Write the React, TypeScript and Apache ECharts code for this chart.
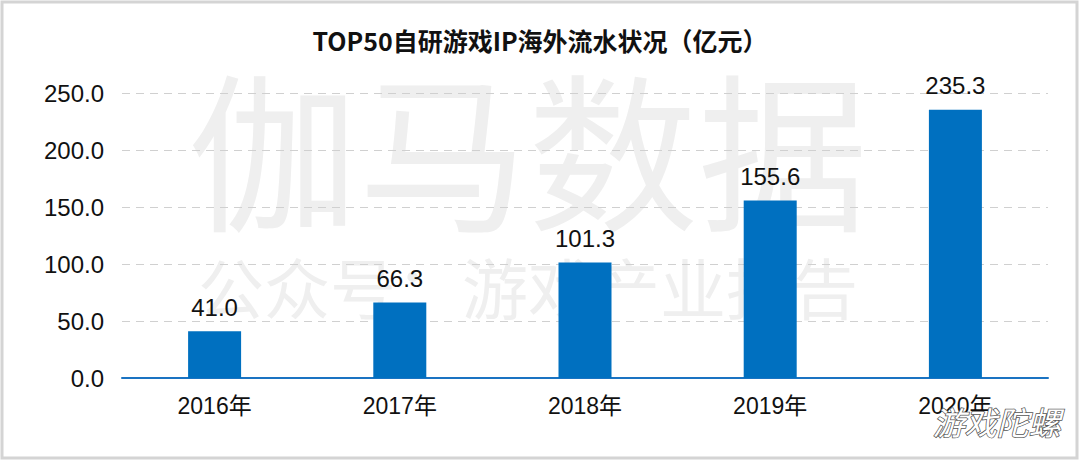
import React, { useEffect, useRef } from "react";
import * as echarts from "echarts";

const categories = ["2016年", "2017年", "2018年", "2019年", "2020年"];
const values = [41.0, 66.3, 101.3, 155.6, 235.3];
const title = "TOP50自研游戏IP海外流水状况（亿元）";

export default function App() {
  const ref = useRef<HTMLDivElement>(null);
  useEffect(() => {
    if (!ref.current) return;
    const chart = echarts.init(ref.current, undefined, { renderer: "svg" });
    const font = "'Liberation Sans', 'Noto Sans CJK SC', sans-serif";
    chart.setOption({
      animation: false,
      backgroundColor: "#ffffff",
      title: {
        text: title,
        left: "center",
        top: 22,
        textStyle: {
          fontSize: 25,
          fontWeight: "bold",
          color: "#111",
          fontFamily: "'Noto Sans CJK SC', sans-serif",
        },
      },
      graphic: [
        {
          type: "rect",
          z: -10,
          shape: { x: 2, y: 2, width: 1075, height: 456 },
          style: { fill: "#fff", stroke: "#d4d4d4", lineWidth: 3 },
          silent: true,
        },
        {
          type: "text",
          z: -5,
          left: 188,
          top: 60,
          style: {
            text: "伽马数据",
            font: "170px 'Noto Sans CJK SC', sans-serif",
            fill: "#efefef",
          },
          silent: true,
        },
        {
          type: "text",
          z: -5,
          left: 198,
          top: 252,
          style: {
            text: "公众号：游戏产业报告",
            font: "66px 'Noto Sans CJK SC', sans-serif",
            fill: "#efefef",
          },
          silent: true,
        },
        {
          type: "text",
          z: 100,
          left: 932,
          top: 404,
          style: {
            text: "游戏陀螺",
            font: "italic 32px 'Noto Sans CJK SC', sans-serif",
            fill: "#ffffff",
            stroke: "#555",
            lineWidth: 1.5,
          },
          silent: true,
        },
      ],
      grid: { left: 122, right: 32, top: 93, bottom: 84 },
      xAxis: {
        type: "category",
        data: categories,
        axisLine: { lineStyle: { color: "#1a73c2", width: 2 } },
        axisTick: { show: false },
        axisLabel: { fontSize: 23, color: "#111", margin: 16, fontFamily: font },
      },
      yAxis: {
        type: "value",
        min: 0,
        max: 250,
        interval: 50,
        axisLine: { show: false },
        axisTick: { show: false },
        axisLabel: {
          fontSize: 24,
          color: "#111",
          margin: 18,
          fontFamily: font,
          formatter: (v: number) => v.toFixed(1),
        },
        splitLine: { lineStyle: { color: "#d0d0d0", type: [8, 6], width: 1 } },
      },
      series: [
        {
          type: "bar",
          data: values,
          barWidth: 53,
          itemStyle: { color: "#0070c0" },
          label: {
            show: true,
            position: "top",
            distance: 12,
            fontSize: 24,
            color: "#111",
            fontFamily: font,
            formatter: (p: any) => Number(p.value).toFixed(1),
          },
        },
      ],
    });
    return () => chart.dispose();
  }, []);
  return (
    <div
      ref={ref}
      style={{ position: "fixed", left: 0, top: 0, width: 1080, height: 462 }}
    />
  );
}
